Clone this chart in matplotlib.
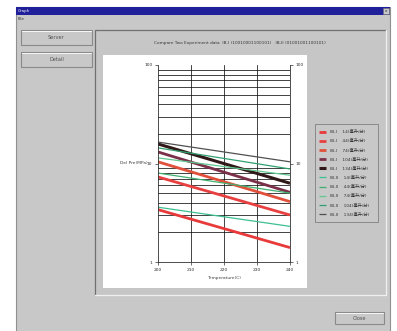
import matplotlib
matplotlib.use("Agg")
import matplotlib.pyplot as plt
from matplotlib.patches import Rectangle
from matplotlib.ticker import FixedLocator, NullFormatter

plt.rcParams["font.family"] = ["DejaVu Sans", "Noto Sans CJK SC"]

# data (pressure drop vs temperature, log scale)
temps = [200, 240]
x_ticks = [200, 210, 220, 230, 240]
groups = ["IB-I"] * 5 + ["IB-II"] * 5
flows = [14, 44, 74, 104, 134] * 2
pressure = [
    [3.4, 1.4],
    [7.3, 3.0],
    [10.4, 4.1],
    [13.1, 5.1],
    [15.8, 6.3],
    [3.6, 2.3],
    [8.0, 5.0],
    [11.4, 7.6],
    [14.4, 8.8],
    [16.5, 10.4],
]
colors = ["#e83a3a", "#e84040", "#e0503a", "#7a3048", "#301818",
          "#3cc090", "#40b070", "#60c890", "#30a070", "#505050"]
widths = [2.0, 2.0, 2.0, 2.0, 2.2, 0.9, 0.9, 0.9, 0.9, 0.9]

W, H = 397, 331
fig = plt.figure(figsize=(W / 100, H / 100), dpi=100)
fig.patch.set_facecolor("white")

bg = fig.add_axes([0, 0, 1, 1])
bg.set_xlim(0, W)
bg.set_ylim(H, 0)
bg.axis("off")


def box(x0, y0, x1, y1, fc, ec="none", lw=0.6, z=1):
    bg.add_patch(Rectangle((x0, y0), x1 - x0, y1 - y0, facecolor=fc,
                           edgecolor=ec, linewidth=lw, zorder=z))


def button(x0, y0, x1, y1, text):
    box(x0, y0, x1, y1, "#c8c8c8", "#8a8a8a", 0.8, 2)
    bg.plot([x0 + 1, x1 - 1], [y0 + 1, y0 + 1], color="white", lw=0.6, zorder=3)
    bg.text((x0 + x1) / 2, (y0 + y1) / 2, text, fontsize=3.6, color="#505050",
            ha="center", va="center", zorder=4)


# window
box(16, 7, 390, H + 2, "#c8c8c8", "#909090", 0.8)
box(16, 7, 390, 15, "#20209a")
bg.text(18, 11, "Graph", fontsize=2.8, color="white", va="center")
box(383, 8, 389, 14, "#c8c8c8", "#707070", 0.4, 2)
bg.text(386, 11, "x", fontsize=3, color="#202020", ha="center", va="center", zorder=3)
bg.text(18, 19, "File", fontsize=3, color="#303030", va="center")

button(21, 30, 92, 45, "Server")
button(21, 52, 92, 67, "Detail")
button(335, 312, 384, 324, "Close")

# panel
box(95, 30, 386, 295, "#c6c6c6", "none", 0, 1)
bg.plot([95, 95, 386], [295, 30, 30], color="#707070", lw=0.9, zorder=2)
bg.plot([95, 386, 386], [295, 295, 30], color="#f0f0f0", lw=0.9, zorder=2)
bg.text(240, 43, "Compare Two Experiment data  IB-I (10010001100101)   IB-II (01001001100101)",
        fontsize=3.1, color="#383838", ha="center", va="center")

# white chart area
box(103, 55, 307, 288, "white", "none", 0, 2)

# legend box
box(315, 124, 378, 222, "#c8c8c8", "#808080", 0.6, 2)

ax = fig.add_axes([158 / W, 1 - 262 / H, 132 / W, 197 / H])
ax.set_zorder(5)
ax.set_facecolor("white")
ax.set_yscale("log")
ax.set_ylim(1, 100)
ax.set_xlim(x_ticks[0], x_ticks[-1])

for g, f, vals, c, lw in zip(groups, flows, pressure, colors, widths):
    ax.plot(temps, vals, color=c, lw=lw, solid_capstyle="butt",
            label=f"{g}    {f}(毫升/分)")

minor = [m * 10 ** e for e in (0, 1) for m in range(2, 10)]
for v in minor:
    ax.axhline(v, color="#101010", lw=0.55, zorder=0)
for v in x_ticks[1:-1]:
    ax.axvline(v, color="#101010", lw=0.55, zorder=0)

ax.set_xticks(x_ticks)
ax.set_xticklabels([str(t) for t in x_ticks])
ax.yaxis.set_major_locator(FixedLocator([1, 10, 100]))
ax.yaxis.set_minor_locator(FixedLocator([]))
ax.yaxis.set_minor_formatter(NullFormatter())
ax.set_yticklabels(["1", "10", "100"])
ax.tick_params(axis="both", labelsize=3.2, colors="#303030", length=2, width=0.5,
               pad=2, right=True, labelright=True)
for s in ax.spines.values():
    s.set_linewidth(0.6)
    s.set_color("#303030")
ax.spines["top"].set_visible(False)

ax.set_xlabel("Temperature(C)", fontsize=3.2, color="#404040", labelpad=3)
ax.set_ylabel("Del Pre(MPa)", fontsize=3.2, color="#404040", rotation=0,
              ha="right", va="center")
ax.yaxis.set_label_coords(-0.08, 0.5)

leg = fig.legend(loc="upper left", bbox_to_anchor=(316 / W, 1 - 127 / H),
                 fontsize=3.1, frameon=False, handlelength=1.6,
                 labelspacing=1.15, borderpad=0.2, handletextpad=1.0)
leg.set_zorder(6)
for t in leg.get_texts():
    t.set_color("#303030")

fig.savefig("out.png", dpi=100)
